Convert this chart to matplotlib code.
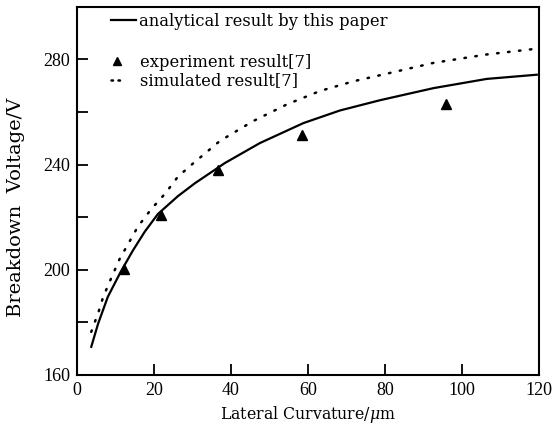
import matplotlib
matplotlib.use("Agg")
import matplotlib.pyplot as plt
from matplotlib.lines import Line2D

# curve data
x_analytical = [3.7, 5.5, 8, 11.3, 14.5, 17.6, 21, 26.2, 30.6, 38.4, 47.5, 58.8, 68.3, 78.7, 92.6, 106.4, 119.4]
y_analytical = [170.7, 179.6, 189.7, 199.1, 207.3, 214.5, 221.2, 228.0, 232.9, 240.6, 248.2, 255.8, 260.6, 264.5, 269.1, 272.6, 274.2]

x_simulated = [3.7, 5.6, 6.8, 8.9, 11.1, 13.2, 15.8, 19.3, 22.9, 26.2, 30.1, 33.2, 37.1, 45.8, 54.5, 63.1, 71.8, 78.7, 92.6, 106.4, 119.4]
y_simulated = [176.4, 184, 189.7, 196.9, 204.2, 209.6, 216.4, 223.1, 229, 235.4, 240.4, 244.2, 249, 256.6, 262.9, 268, 271.7, 274, 278.7, 281.9, 284.1]

x_experiment = [12.3, 21.7, 36.5, 58.4, 95.8]
y_experiment = [200.4, 221, 237.8, 251.3, 262.9]

x_ticks = [0, 20, 40, 60, 80, 100, 120]
y_ticks = [160, 180, 200, 220, 240, 260, 280]
y_labels = ['160', '', '200', '', '240', '', '280']

plt.rcParams['font.family'] = ['Liberation Serif', 'DejaVu Serif']
plt.rcParams['mathtext.fontset'] = 'dejavuserif'

fig = plt.figure(figsize=(5.54, 4.30), dpi=100)
ax = fig.add_axes([0.139, 0.128, 0.834, 0.856])

ax.plot(x_analytical, y_analytical, color='black', lw=1.6)
ax.plot(x_simulated, y_simulated, color='black', lw=1.8,
        linestyle=(0, (0.6, 3.8)), dash_capstyle='round')
ax.plot(x_experiment, y_experiment, linestyle='none', marker='^',
        color='black', markersize=7)

ax.set_xlim(0, 120)
ax.set_ylim(160, 300)
ax.set_xticks(x_ticks)
ax.set_yticks(y_ticks)
ax.set_yticklabels(y_labels)
ax.tick_params(direction='in', length=8, width=1.3, labelsize=13, pad=5)
for s in ax.spines.values():
    s.set_linewidth(1.5)

ax.set_xlabel(r'Lateral Curvature/$\mu$m', fontsize=11.3, family='DejaVu Serif', labelpad=4)
ax.set_ylabel('Breakdown  Voltage/V', fontsize=14, family='DejaVu Serif')
ax.yaxis.set_label_coords(-0.112, 0.455)

# legend: first row is set apart from the other two
legend_font = {'family': 'DejaVu Serif', 'size': 11.8}
h1 = [Line2D([], [], color='black', lw=1.6)]
leg1 = ax.legend(h1, ['analytical result by this paper'], loc='upper left',
                 bbox_to_anchor=(0.041, 1.024), frameon=False, prop=legend_font,
                 handlelength=1.55, handletextpad=0.2)
ax.add_artist(leg1)
h2 = [Line2D([], [], linestyle='none', marker='^', color='black', markersize=6),
      Line2D([], [], color='black', lw=1.8, linestyle=(0, (0.6, 2.2)), dash_capstyle='round')]
ax.legend(h2, ['experiment result[7]', 'simulated result[7]'], loc='upper left',
          bbox_to_anchor=(0.041, 0.912), frameon=False, prop=legend_font,
          handlelength=0.8, handletextpad=1.0, labelspacing=0.08)

fig.savefig('out.png', dpi=100)
